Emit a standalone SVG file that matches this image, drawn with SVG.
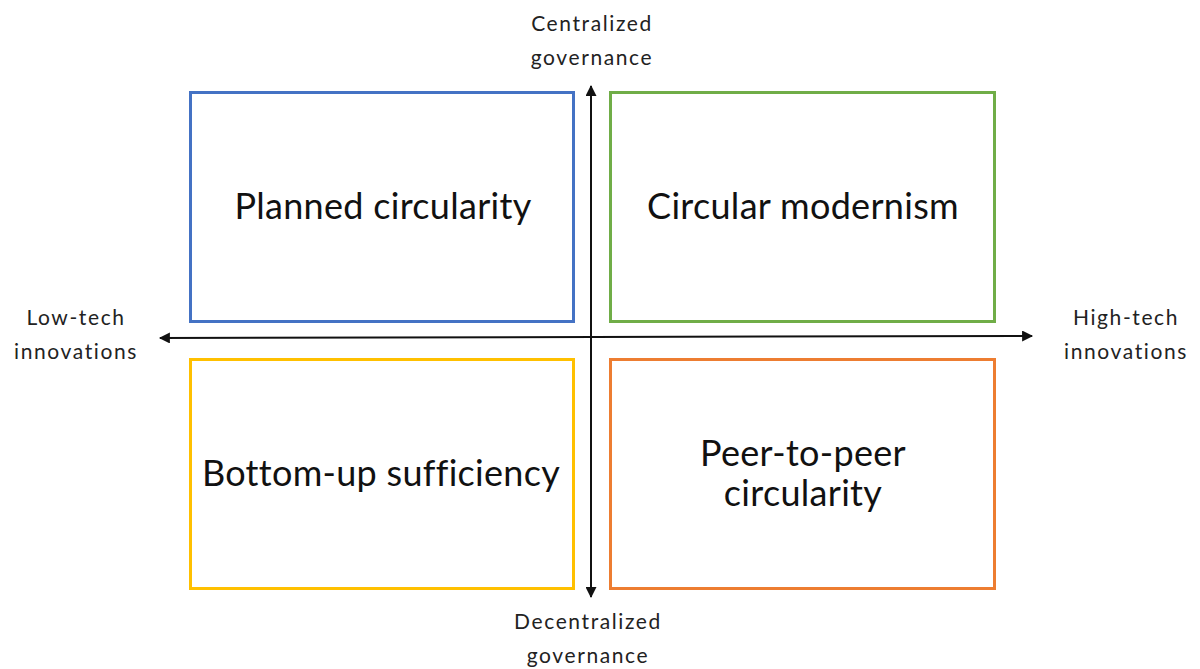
<svg xmlns="http://www.w3.org/2000/svg" width="1200" height="669" viewBox="0 0 1200 669">
<style>
.box{fill:#fff;stroke-width:3}
.big{font-family:Lato,"Liberation Sans",sans-serif;font-size:36px;letter-spacing:0.3px;fill:#111;text-anchor:middle}
.lab{font-family:Lato,"Liberation Sans",sans-serif;font-size:21px;letter-spacing:1.6px;fill:#222;text-anchor:middle}
.axis{stroke:#111;stroke-width:2;fill:none}
</style>
<defs>
<marker id="ah" viewBox="0 0 10 10" refX="9" refY="5" markerWidth="12" markerHeight="11" markerUnits="userSpaceOnUse" orient="auto-start-reverse">
<path d="M0,0 L10,5 L0,10 z" fill="#111"/>
</marker>
</defs>
<rect width="1200" height="669" fill="#fff"/>
<g id="planned"><rect class="box" x="190.5" y="92.5" width="383" height="229" stroke="#4472C4"/><text class="big" x="383" y="219">Planned circularity</text></g>
<g id="modernism"><rect class="box" x="610.5" y="92.5" width="384" height="229" stroke="#70AD47"/><text class="big" x="803" y="219">Circular modernism</text></g>
<g id="sufficiency"><rect class="box" x="190.5" y="359.5" width="383" height="229" stroke="#FFC000"/><text class="big" x="381" y="486">Bottom-up sufficiency</text></g>
<g id="p2p"><rect class="box" x="610.5" y="359.5" width="384" height="229" stroke="#ED7D31"/><text class="big" x="803" y="466">Peer-to-peer</text><text class="big" x="803" y="506">circularity</text></g>
<g id="connectors">
<line class="axis" x1="591" y1="597" x2="591" y2="86" marker-start="url(#ah)" marker-end="url(#ah)"/>
<line class="axis" x1="160" y1="338" x2="1032" y2="336" marker-start="url(#ah)" marker-end="url(#ah)"/>
</g>
<g id="labels">
<text class="lab" x="592" y="31">Centralized</text><text class="lab" x="592" y="65">governance</text>
<text class="lab" x="588" y="629">Decentralized</text><text class="lab" x="588" y="663">governance</text>
<text class="lab" x="76" y="325">Low-tech</text><text class="lab" x="76" y="359">innovations</text>
<text class="lab" x="1126" y="325">High-tech</text><text class="lab" x="1126" y="359">innovations</text>
</g>
</svg>
